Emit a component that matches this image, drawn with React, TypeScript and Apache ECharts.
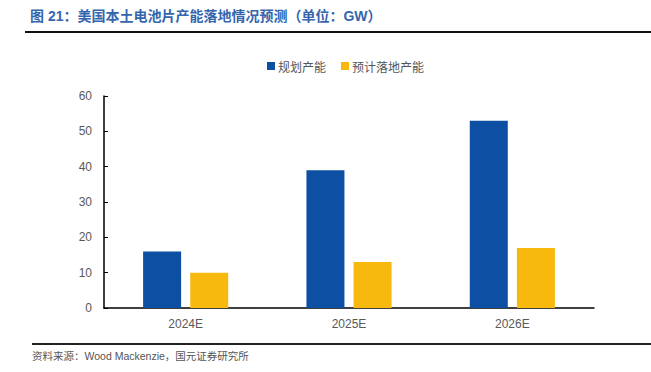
import React, { useEffect, useRef } from "react";
import * as echarts from "echarts";

const categories = ["2024E", "2025E", "2026E"];
const plannedCapacity = [16, 39, 53];
const expectedCapacity = [10, 13, 17];
const seriesNames = ["规划产能", "预计落地产能"];
const titleText = "图 21：美国本土电池片产能落地情况预测（单位：GW）";
const sourceText = "资料来源：Wood Mackenzie，国元证券研究所";

export default function App() {
  const ref = useRef<HTMLDivElement>(null);
  useEffect(() => {
    const chart = echarts.init(ref.current!, null, { renderer: "svg" });
    chart.setOption({
      animation: false,
      backgroundColor: "#fff",
      textStyle: { fontFamily: "Noto Sans CJK SC" },
      graphic: [
        {
          type: "text",
          left: 30,
          top: 9,
          style: {
            text: titleText,
            fill: "#3465ad",
            font: "bold 14px 'Liberation Sans', 'Noto Sans CJK SC'",
          },
        },
        {
          type: "rect",
          shape: { x: 25, y: 31, width: 626, height: 2 },
          style: { fill: "#111" },
        },
        {
          type: "rect",
          shape: { x: 32, y: 343, width: 619, height: 2 },
          style: { fill: "#222" },
        },
        {
          type: "text",
          left: 32,
          top: 351,
          style: {
            text: sourceText,
            fill: "#555",
            font: "10.5px 'Liberation Sans', 'Noto Sans CJK SC'",
          },
        },
      ],
      legend: {
        top: 55,
        left: 262,
        itemWidth: 8,
        itemHeight: 8,
        itemGap: 15,
        icon: "rect",
        textStyle: { color: "#555", fontSize: 12, fontFamily: "Noto Sans CJK SC", padding: [0, 0, 0, -2] },
        data: seriesNames,
      },
      grid: { left: 104, right: 57, top: 96, bottom: 64 },
      xAxis: {
        type: "category",
        data: categories,
        axisLine: { lineStyle: { color: "#000", width: 1.5 } },
        axisTick: { inside: true, length: 4, lineStyle: { color: "#000" } },
        axisLabel: { color: "#595959", fontSize: 12, margin: 10, fontFamily: "Liberation Sans" },
      },
      yAxis: {
        type: "value",
        min: 0,
        max: 60,
        interval: 10,
        splitLine: { show: false },
        axisLine: { show: true, lineStyle: { color: "#000", width: 1.5 } },
        axisTick: { show: true, inside: true, length: 4, lineStyle: { color: "#000" } },
        axisLabel: { color: "#595959", fontSize: 12, margin: 12, fontFamily: "Liberation Sans" },
      },
      series: [
        {
          name: seriesNames[0],
          type: "bar",
          data: plannedCapacity,
          barWidth: 38,
          barGap: "24%",
          itemStyle: { color: "#0d4fa3" },
        },
        {
          name: seriesNames[1],
          type: "bar",
          data: expectedCapacity,
          barWidth: 38,
          itemStyle: { color: "#f8b90f" },
        },
      ],
    });
    return () => chart.dispose();
  }, []);
  return <div ref={ref} style={{ width: 651, height: 372, position: "absolute", left: 0, top: 0 }} />;
}
